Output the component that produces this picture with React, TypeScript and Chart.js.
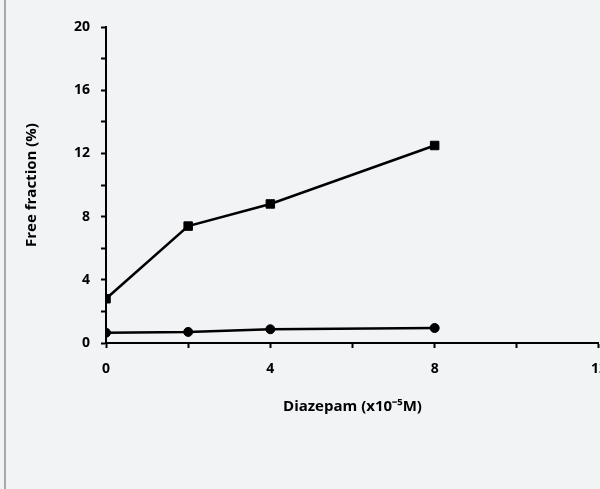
import React, { useEffect, useRef } from "react";
import { Chart, registerables } from "chart.js";

Chart.register(...registerables);

const diazepam = [0, 2, 4, 8];
const squareSeries = [2.8, 7.4, 8.8, 12.5];
const circleSeries = [0.65, 0.7, 0.87, 0.95];
const xTickValues = [0, 4, 8, 12];
const yTickValues = [0, 4, 8, 12, 16, 20];

const FONT = "'Open Sans', 'Liberation Sans', sans-serif";

export default function App() {
  const ref = useRef<HTMLCanvasElement | null>(null);

  useEffect(() => {
    document.body.style.margin = "0";
    document.body.style.overflow = "hidden";
    const canvas = ref.current!;
    const chart = new Chart(canvas, {
      type: "line",
      data: {
        datasets: [
          {
            label: "squares",
            data: diazepam.map((x, i) => ({ x, y: squareSeries[i] })),
            borderColor: "#000",
            backgroundColor: "#000",
            borderWidth: 2.5,
            pointStyle: "rect",
            pointRadius: 6,
            pointBorderWidth: 1,
            tension: 0,
          },
          {
            label: "circles",
            data: diazepam.map((x, i) => ({ x, y: circleSeries[i] })),
            borderColor: "#000",
            backgroundColor: "#000",
            borderWidth: 2.5,
            pointStyle: "circle",
            pointRadius: 4.5,
            pointBorderWidth: 1,
            tension: 0,
          },
        ],
      },
      options: {
        animation: false,
        responsive: false,
        devicePixelRatio: 1,
        layout: { padding: { left: 0, top: 27, right: 21, bottom: 0 } },
        plugins: { legend: { display: false }, tooltip: { enabled: false } },
        scales: {
          x: {
            type: "linear",
            min: 0,
            max: 12,
            afterFit: (s: any) => {
              s.height = 146;
            },
            ticks: {
              stepSize: 2,
              autoSkip: false,
              maxRotation: 0,
              padding: 13,
              color: "#000",
              font: { family: FONT, size: 14, weight: "bold" },
              callback: (v: any) => (xTickValues.includes(Number(v)) ? String(v) : ""),
            },
            grid: {
              drawOnChartArea: false,
              drawTicks: true,
              tickLength: 5,
              tickColor: "#000",
              tickWidth: 2,
            },
            border: { display: true, color: "#000", width: 2 },
            title: {
              display: true,
              text: "Diazepam (x10⁻⁵M)",
              color: "#000",
              font: { family: FONT, size: 15, weight: "bold" },
              padding: { top: 0, bottom: 73 },
            },
          },
          y: {
            type: "linear",
            min: 0,
            max: 20,
            afterFit: (s: any) => {
              s.width = 106;
            },
            ticks: {
              stepSize: 2,
              autoSkip: false,
              padding: 11,
              color: "#000",
              font: { family: FONT, size: 14, weight: "bold" },
              callback: (v: any) => (yTickValues.includes(Number(v)) ? String(v) : ""),
            },
            grid: {
              drawOnChartArea: false,
              drawTicks: true,
              tickLength: 5,
              tickColor: "#000",
              tickWidth: 2,
            },
            border: { display: true, color: "#000", width: 2 },
            title: {
              display: true,
              text: "Free fraction (%)",
              color: "#000",
              font: { family: FONT, size: 15, weight: "bold" },
              padding: { top: 23, bottom: 0 },
            },
          },
        },
      },
    });
    return () => chart.destroy();
  }, []);

  return (
    <div
      style={{
        position: "fixed",
        left: 0,
        top: 0,
        width: 600,
        height: 489,
        overflow: "hidden",
        background: "#f2f3f5",
      }}
    >
      <div
        style={{
          position: "absolute",
          left: 4,
          top: 0,
          width: 2,
          height: 489,
          background: "#a8a8a8",
        }}
      />
      <canvas
        ref={ref}
        width={620}
        height={489}
        style={{ position: "absolute", left: 0, top: 0, width: 620, height: 489, display: "block" }}
      />
    </div>
  );
}
